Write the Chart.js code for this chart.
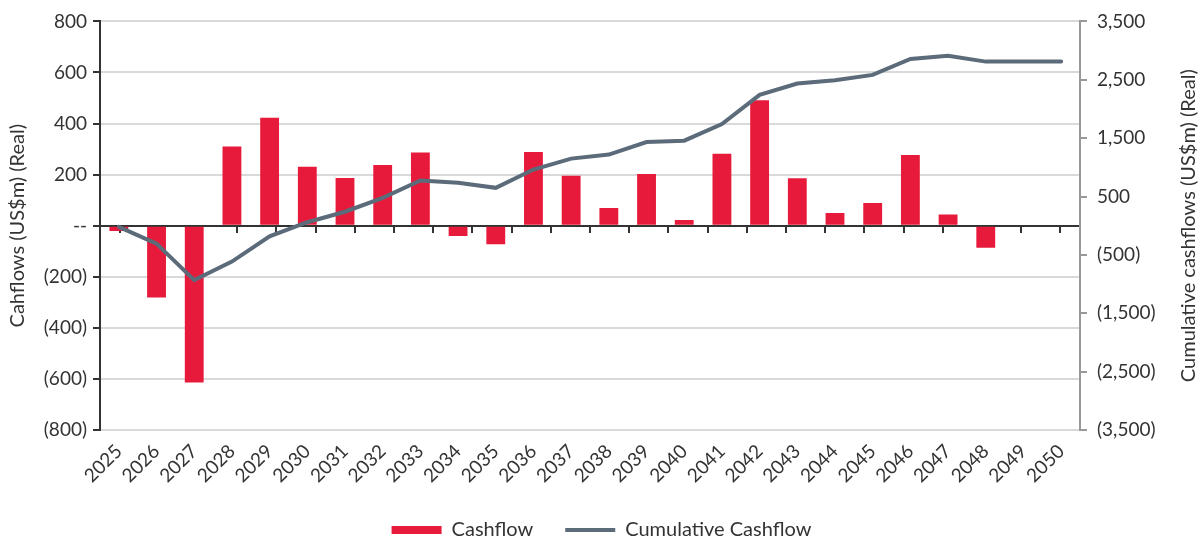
<!DOCTYPE html>
<html>
<head>
<meta charset="utf-8">
<script src="https://cdn.jsdelivr.net/npm/chart.js@4"></script>
<style>
  html, body { margin: 0; padding: 0; background: #fff; }
  #wrap { width: 1203px; height: 540px; }
</style>
</head>
<body>
<div id="wrap"><canvas id="cf"></canvas></div>
<script>
const years = ['2025','2026','2027','2028','2029','2030','2031','2032','2033','2034','2035','2036','2037',
  '2038','2039','2040','2041','2042','2043','2044','2045','2046','2047','2048','2049','2050'];
const cashflow = [-21, -281, -614, 310, 423, 231, 187, 238, 287, -40, -73, 289, 196,
  69, 202, 22, 282, 491, 186, 50, 89, 277, 44, -86, 0, 0];
const cumulative = [-20, -307, -933, -615, -182, 60, 239, 478, 774, 734, 649, 962, 1149,
  1218, 1434, 1457, 1741, 2242, 2435, 2492, 2583, 2856, 2913, 2811, 2811, 2811];
const leftTicks = { min: -800, max: 800, step: 200 };
const rightTicks = { min: -3500, max: 3500, step: 1000 };
const rightTitle = 'Cumulative cashflows (US$m) (Real)';

const FONT = 'Lato, "DejaVu Sans", sans-serif';
const TXT = '#333';

const paren = v => {
  if (v === 0) return '--';
  const s = Math.abs(v).toLocaleString('en-US');
  return v < 0 ? '(' + s + ')' : s;
};

// right axis title reads bottom-to-top like the left one, so draw it by hand
const rightTitlePlugin = {
  id: 'rightTitle',
  afterDraw(chart) {
    const ctx = chart.ctx, a = chart.chartArea;
    ctx.save();
    ctx.translate(1189, (a.top + a.bottom) / 2);
    ctx.rotate(-Math.PI / 2);
    ctx.font = '20px ' + FONT;
    ctx.fillStyle = TXT;
    ctx.textAlign = 'center';
    ctx.textBaseline = 'middle';
    ctx.fillText(rightTitle, 0, 0);
    ctx.restore();
  }
};

Chart.defaults.font.family = FONT;
Chart.defaults.font.size = 19;
Chart.defaults.color = TXT;

new Chart(document.getElementById('cf'), {
  data: {
    labels: years,
    datasets: [
      { type: 'bar', label: 'Cashflow', data: cashflow, backgroundColor: '#e81a3b', borderWidth: 0,
        barPercentage: 0.5, categoryPercentage: 1, yAxisID: 'y', order: 2, pointStyle: 'rect' },
      { type: 'line', label: 'Cumulative Cashflow', data: cumulative, borderColor: '#5b6b7a', backgroundColor: '#5b6b7a',
        borderWidth: 4, borderCapStyle: 'round', pointRadius: 0, pointStyle: 'line', tension: 0, yAxisID: 'y1', order: 1 }
    ]
  },
  plugins: [rightTitlePlugin],
  options: {
    responsive: true,
    maintainAspectRatio: false,
    animation: false,
    // negative bottom padding lets the legend sit lower without eating the plot
    layout: { padding: { top: 20, right: 0, left: 0, bottom: -10 } },
    plugins: {
      tooltip: { enabled: false },
      legend: {
        position: 'bottom',
        labels: { usePointStyle: true, pointStyleWidth: 50, boxHeight: 8, padding: 32, font: { size: 20 },
          sort: (a, b) => a.datasetIndex - b.datasetIndex }
      }
    },
    scales: {
      x: {
        grid: { display: false },
        border: { display: false },
        ticks: { minRotation: 45, maxRotation: 45, padding: 2, autoSkip: false },
        afterFit: s => { s.height = 58; }
      },
      xz: {
        type: 'category',
        position: { y: 0 },
        grid: { drawOnChartArea: false, offset: true, tickLength: 6, color: TXT, lineWidth: 2 },
        border: { color: TXT, width: 2 },
        ticks: { callback: () => '', padding: 0 }
      },
      y: {
        position: 'left',
        min: leftTicks.min, max: leftTicks.max,
        ticks: { stepSize: leftTicks.step, callback: paren, padding: 6 },
        grid: { color: ctx => ctx.tick && ctx.tick.value === 0 ? 'rgba(0,0,0,0)' : '#d9d9d9', lineWidth: 2, tickLength: 7, tickColor: TXT },
        border: { color: TXT, width: 2 },
        title: { display: true, text: 'Cahflows (US$m) (Real)', font: { size: 20 }, padding: { top: 6, bottom: 0 } },
        afterFit: s => { s.width = 100; }
      },
      y1: {
        position: 'right',
        min: rightTicks.min, max: rightTicks.max,
        ticks: { stepSize: rightTicks.step, callback: paren, padding: 10 },
        grid: { drawOnChartArea: false, tickLength: 7, tickColor: '#999', lineWidth: 2 },
        border: { color: '#999', width: 2 },
        afterFit: s => { s.width = 123; }
      }
    }
  }
});
</script>
</body>
</html>
